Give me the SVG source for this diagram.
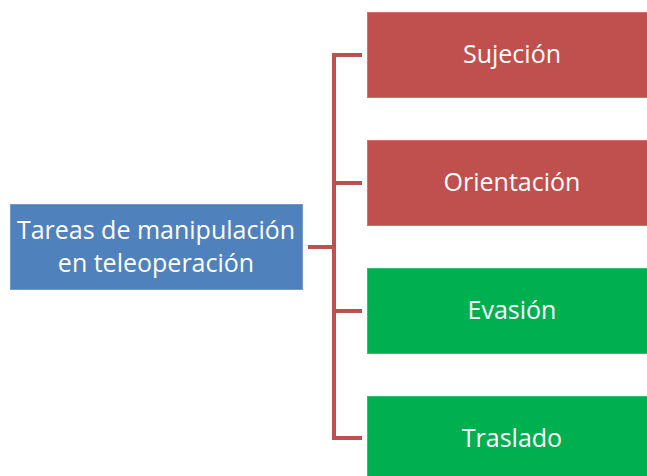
<svg xmlns="http://www.w3.org/2000/svg" width="647" height="476" viewBox="0 0 647 476">
<style>
.t{font-family:"Open Sans","Liberation Sans",sans-serif;font-size:25px;fill:#ffffff;text-anchor:middle}
.r{fill:#C0504D;stroke:#D0736F;stroke-width:1}
.g{fill:#00B050;stroke:#33C070;stroke-width:1}
.b{fill:#4F81BD;stroke:#7297CA;stroke-width:1}
.c{fill:none;stroke:#C0504D;stroke-width:4}
</style>
<rect width="647" height="476" fill="#ffffff"/>
<g id="connectors">
<path class="c" d="M308,247 H334"/>
<path class="c" d="M362,55 H334 V438 H362"/>
<path class="c" d="M334,183 H362"/>
<path class="c" d="M334,311 H362"/>
</g>
<g id="root"><rect class="b" x="10.5" y="204.5" width="292" height="85"/>
<text class="t" x="156" y="239">Tareas de manipulación</text>
<text class="t" x="156" y="272">en teleoperación</text></g>
<g id="sujecion"><rect class="r" x="367.5" y="12.5" width="290" height="85"/><text class="t" x="512" y="63">Sujeción</text></g>
<g id="orientacion"><rect class="r" x="367.5" y="140.5" width="290" height="85"/><text class="t" x="512" y="191">Orientación</text></g>
<g id="evasion"><rect class="g" x="367.5" y="268.5" width="290" height="85"/><text class="t" x="512" y="319">Evasión</text></g>
<g id="traslado"><rect class="g" x="367.5" y="396.5" width="290" height="85"/><text class="t" x="512" y="447">Traslado</text></g>
</svg>
